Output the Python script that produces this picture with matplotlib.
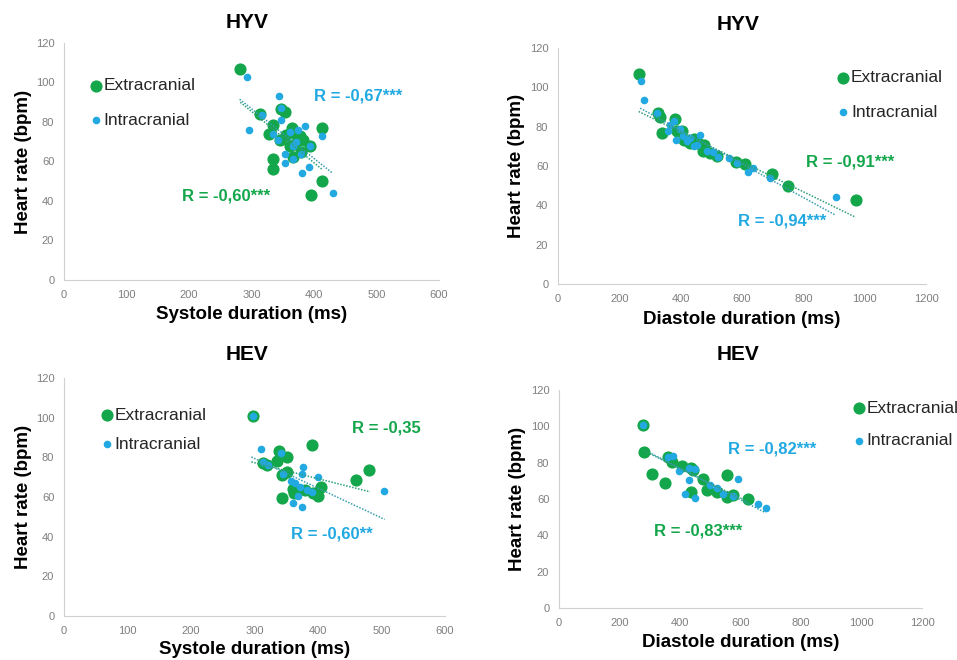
import numpy as np
import matplotlib
matplotlib.use("Agg")
import matplotlib.pyplot as plt

plt.rcParams['font.family'] = ['Liberation Sans', 'DejaVu Sans']

GREEN = '#13A64B'
BLUE = '#22A9E1'

# HYV - systole
hyv_sys_ext_x = [282, 314, 347, 354, 328, 334, 345, 356, 365, 372, 377, 361, 366, 382, 393, 413, 334, 334, 413, 396, 380, 369]
hyv_sys_ext_y = [107, 84, 86.7, 85, 74, 78.6, 71, 73.5, 77, 74, 72.7, 67.6, 62.5, 71, 67.6, 77, 61, 56, 50, 43, 65, 69]
hyv_sys_int_x = [292, 344, 296, 317, 348, 348, 334, 342, 353, 353, 366, 371, 374, 385, 380, 381, 392, 413, 430, 361, 366, 394]
hyv_sys_int_y = [103, 93, 76, 83.7, 87, 81, 74, 71, 64, 59, 67.6, 70, 76, 78, 64, 54, 57, 73, 44, 75, 61, 67.6]
hyv_sys_ext_fit = ([282, 413], [90, 56])
hyv_sys_int_fit = ([281, 430], [91.5, 54])

# HYV - diastole
hyv_dia_ext_x = [263, 325, 331, 339, 382, 388, 404, 412, 442, 458, 477, 472, 496, 518, 581, 610, 699, 751, 971, 431]
hyv_dia_ext_y = [107, 87, 85, 77, 84, 77.6, 78, 73, 73.7, 71.6, 70.8, 67.4, 66.5, 65, 62, 61, 56, 50, 42.8, 71.6]
hyv_dia_int_x = [271, 281, 322, 366, 377, 360, 386, 398, 409, 431, 464, 453, 485, 507, 523, 556, 583, 621, 637, 690, 906, 420, 442]
hyv_dia_int_y = [103, 93.4, 87, 81, 82.7, 78, 73, 79, 75, 74, 76, 70.8, 67.4, 67, 64.5, 64.3, 61.4, 56.7, 58.9, 53.8, 44, 72.5, 70]
hyv_dia_ext_fit = ([263, 971], [87.7, 33.9])
hyv_dia_int_fit = ([268, 904], [89.4, 35.1])

# HEV - systole
hev_sys_ext_x = [298, 338, 351, 336, 314, 319, 351, 343, 391, 480, 460, 360, 362, 343, 379, 392, 400, 404]
hev_sys_ext_y = [100.9, 83.2, 80.2, 78, 77.2, 76, 72.7, 71, 86, 73.8, 68.5, 63.8, 61.8, 59.7, 63.4, 61.8, 60.6, 64.8]
hev_sys_int_x = [298, 311, 342, 314, 322, 345, 376, 375, 400, 358, 364, 371, 382, 390, 369, 361, 374, 504]
hev_sys_int_y = [101, 84.2, 82.2, 77.7, 76, 71.8, 75.2, 71.5, 70.2, 68, 66.8, 65.1, 63.4, 62.3, 60.6, 57, 55, 63]
hev_sys_ext_fit = ([295, 482], [77.7, 62.6])
hev_sys_int_fit = ([295, 505], [80.2, 48.7])

# HEV - diastole
hev_dia_ext_x = [279, 282, 306, 361, 375, 408, 351, 436, 444, 477, 437, 490, 556, 523, 554, 576, 626]
hev_dia_ext_y = [101, 86, 74, 82.9, 80.1, 78.1, 69, 76.8, 75.9, 70.9, 63.8, 64.9, 73, 64, 61.2, 62.1, 59.9]
hev_dia_int_x = [279, 361, 378, 397, 430, 416, 449, 430, 499, 521, 543, 576, 592, 658, 683, 449]
hev_dia_int_y = [101, 83.2, 83.6, 75.3, 70.2, 63, 60.3, 76.8, 67.6, 65.8, 63, 61.6, 70.9, 57.2, 55.1, 76.3]
hev_dia_ext_fit = ([282, 626], [86.4, 58.4])
hev_dia_int_fit = ([306, 683], [85, 52.4])

fig = plt.figure(figsize=(9.57, 6.6), dpi=100)


def panel(rect, title, title_xy, xlabel, xmax, ext, intra, ext_fit, int_fit,
          ext_r, int_r, leg_xy, leg_space, xlab_y, ylab_x):
    ax = fig.add_axes(rect)
    ax.scatter(ext[0], ext[1], s=60, color=GREEN, zorder=2, label='Extracranial')
    ax.scatter(intra[0], intra[1], s=20, color=BLUE, zorder=3, label='Intracranial')
    ax.plot(ext_fit[0], ext_fit[1], ls=(0, (1, 1)), lw=1.1, color='#2E9E7A', zorder=4)
    ax.plot(int_fit[0], int_fit[1], ls=(0, (1, 1)), lw=1.1, color='#3A9EB0', zorder=4)
    ax.text(ext_r[0], ext_r[1], ext_r[2], color=GREEN, fontsize=12, fontweight='bold',
            ha='center', va='center')
    ax.text(int_r[0], int_r[1], int_r[2], color=BLUE, fontsize=12, fontweight='bold',
            ha='center', va='center')
    ax.set_xlim(0, xmax)
    ax.set_ylim(0, 120)
    ax.set_xticks(np.arange(0, xmax + 1, 100 if xmax == 600 else 200))
    ax.set_yticks(np.arange(0, 121, 20))
    ax.tick_params(length=0, labelsize=8, labelcolor='#7f7f7f', pad=7)
    for s in ['top', 'right']:
        ax.spines[s].set_visible(False)
    for s in ['left', 'bottom']:
        ax.spines[s].set_color('#d0d0d0')
    ax.set_xlabel(xlabel, fontsize=13.5, fontweight='bold')
    ax.set_ylabel('Heart rate (bpm)', fontsize=13.5, fontweight='bold')
    ax.xaxis.set_label_coords(0.5, xlab_y)
    ax.yaxis.set_label_coords(ylab_x, 0.5)
    leg = ax.legend(loc='upper left', bbox_to_anchor=leg_xy, frameon=False, fontsize=12.5,
                    handlelength=0.6, handletextpad=0.15, borderpad=0, borderaxespad=0,
                    labelspacing=leg_space, scatterpoints=1)
    for t in leg.get_texts():
        t.set_color('#262626')
    fig.text(title_xy[0] / 957, 1 - title_xy[1] / 660, title, fontsize=15,
             fontweight='bold', ha='center', va='center')
    return ax


panel([0.0669, 0.5758, 0.3918, 0.3591], 'HYV', (247, 22), 'Systole duration (ms)', 600,
      (hyv_sys_ext_x, hyv_sys_ext_y), (hyv_sys_int_x, hyv_sys_int_y),
      hyv_sys_ext_fit, hyv_sys_int_fit,
      (260, 42.3, 'R = -0,60***'), (470, 93, 'R = -0,67***'),
      (0.071, 0.852), 1.13, -0.11, -0.085)

panel([0.5831, 0.5697, 0.3845, 0.3576], 'HYV', (738, 24), 'Diastole duration (ms)', 1200,
      (hyv_dia_ext_x, hyv_dia_ext_y), (hyv_dia_int_x, hyv_dia_int_y),
      hyv_dia_ext_fit, hyv_dia_int_fit,
      (952, 61.8, 'R = -0,91***'), (732, 32, 'R = -0,94***'),
      (0.761, 0.907), 1.13, -0.114, -0.09)

panel([0.0669, 0.0667, 0.3981, 0.3606], 'HEV', (247, 354), 'Systole duration (ms)', 600,
      (hev_sys_ext_x, hev_sys_ext_y), (hev_sys_int_x, hev_sys_int_y),
      hev_sys_ext_fit, hev_sys_int_fit,
      (507, 94.8, 'R = -0,35'), (421, 41.3, 'R = -0,60**'),
      (0.098, 0.875), 0.78, -0.105, -0.084)

panel([0.5841, 0.0788, 0.3793, 0.3303], 'HEV', (738, 355), 'Diastole duration (ms)', 1200,
      (hev_dia_ext_x, hev_dia_ext_y), (hev_dia_int_x, hev_dia_int_y),
      hev_dia_ext_fit, hev_dia_int_fit,
      (460, 42.4, 'R = -0,83***'), (706, 87.5, 'R = -0,82***'),
      (0.811, 0.951), 1.0, -0.119, -0.091)

fig.savefig('out.png', dpi=100)
